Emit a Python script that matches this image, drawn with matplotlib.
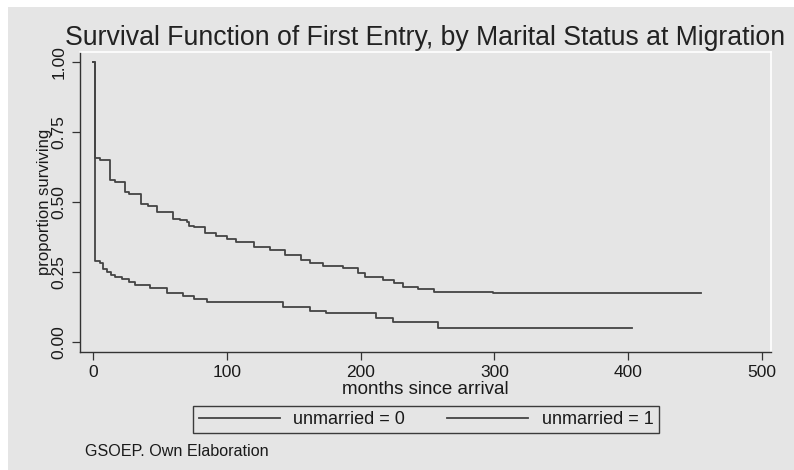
import matplotlib
matplotlib.use("Agg")
import matplotlib.pyplot as plt
from matplotlib.patches import Rectangle

# Kaplan-Meier survival estimates of first entry, by marital status at migration
months_married = [0, 1, 5, 12.5, 16, 23.7, 27, 35.7, 41, 47.9, 59.9, 64.8, 69.8, 71.9,
                  75, 83.6, 92, 99.8, 107, 120, 132, 143.5, 155, 162, 172, 187, 198,
                  203, 217, 224.6, 231.6, 243, 254.5, 299, 455]
surv_married = [1.0, 0.656, 0.650, 0.579, 0.573, 0.535, 0.529, 0.492, 0.487, 0.465,
                0.439, 0.435, 0.430, 0.415, 0.410, 0.388, 0.379, 0.367, 0.357, 0.340,
                0.329, 0.311, 0.293, 0.283, 0.271, 0.263, 0.245, 0.231, 0.221, 0.212,
                0.195, 0.188, 0.180, 0.175, 0.175]

months_unmarried = [0, 1, 5, 7.5, 10, 13, 16, 21.7, 26.7, 31, 42.5, 55, 67, 75, 85,
                    141.8, 162, 174, 211.6, 224, 258.2, 403]
surv_unmarried = [1.0, 0.289, 0.283, 0.260, 0.249, 0.241, 0.231, 0.224, 0.215, 0.205,
                  0.194, 0.175, 0.166, 0.154, 0.144, 0.124, 0.112, 0.102, 0.087, 0.073,
                  0.049, 0.049]

labels = ["unmarried = 0", "unmarried = 1"]
x_ticks = [0, 100, 200, 300, 400, 500]
y_ticks = [0.0, 0.25, 0.5, 0.75, 1.0]
y_ticklabels = ["0.00", "0.25", "0.50", "0.75", "1.00"]

plt.rcParams["font.family"] = ["Liberation Sans", "DejaVu Sans"]

W, H = 794, 470
BG = "#e5e5e5"
INK = "#1a1a1a"
LINE = "#444444"

fig = plt.figure(figsize=(W / 100, H / 100), dpi=100, facecolor="white")
fig.patches.append(Rectangle((8 / W, 0), 1 - 8 / W, 1 - 7 / H, transform=fig.transFigure,
                             facecolor=BG, edgecolor="none", zorder=-10))

ax = fig.add_axes([80 / W, 1 - 352 / H, (771 - 80) / W, (352 - 52) / H])
ax.set_facecolor(BG)

ax.step(months_married, surv_married, where="post", color=LINE, lw=1.3, label=labels[0])
ax.step(months_unmarried, surv_unmarried, where="post", color=LINE, lw=1.3, label=labels[1])

ax.set_xlim(-10, 507)
ax.set_ylim(-0.0357, 1.0357)
ax.set_xticks(x_ticks)
ax.set_yticks(y_ticks)
ax.set_yticklabels(y_ticklabels, rotation=90, va="center")

for side in ("top", "right"):
    ax.spines[side].set_color("white")
    ax.spines[side].set_linewidth(1.2)
for side in ("left", "bottom"):
    ax.spines[side].set_color("#333333")
    ax.spines[side].set_linewidth(1.0)

ax.tick_params(axis="both", direction="out", length=5.5, width=0.9, color="#333333",
               labelsize=12.5, labelcolor=INK, pad=4)

ax.set_xlabel("months since arrival", fontsize=13.5, color=INK)
ax.xaxis.label.set_va("center")
ax.xaxis.set_label_coords(0.5, (352 - 389) / 300)

ax.set_ylabel("proportion surviving", fontsize=12, color=INK)
ax.yaxis.label.set_va("center")
ax.yaxis.set_label_coords((45 - 80) / 691, 0.5)

fig.text(425 / W, 1 - 45 / H, "Survival Function of First Entry, by Marital Status at Migration",
         ha="center", va="baseline", fontsize=19.2, color="#222222")

leg = fig.legend(loc="center", bbox_to_anchor=(426 / W, 1 - 419.5 / H), ncol=2,
                 frameon=True, fancybox=False, fontsize=13, handlelength=4.5,
                 handletextpad=0.75, columnspacing=2.3, borderpad=0.3,
                 borderaxespad=0)
leg.get_frame().set_facecolor(BG)
leg.get_frame().set_edgecolor("#111111")
leg.get_frame().set_linewidth(1.0)
for t in leg.get_texts():
    t.set_color(INK)

fig.text(85 / W, 1 - 451 / H, "GSOEP. Own Elaboration", ha="left", va="center",
         fontsize=11.6, color=INK)

fig.savefig("out.png", dpi=100, facecolor="white")
